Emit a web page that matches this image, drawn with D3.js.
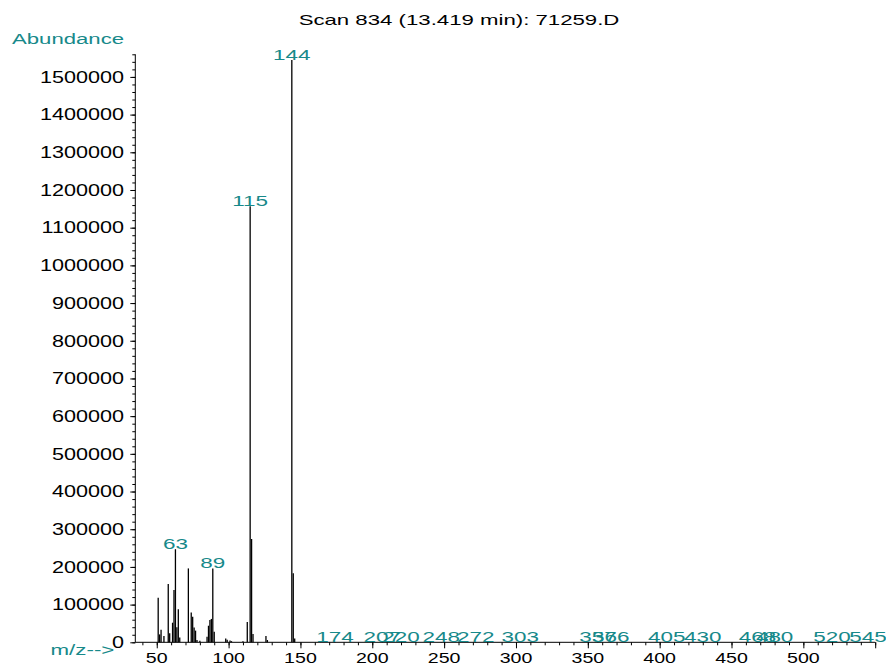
<!DOCTYPE html>
<html>
<head>
<meta charset="utf-8">
<script src="https://cdn.jsdelivr.net/npm/d3@7"></script>
<style>
  html, body { margin: 0; padding: 0; background: #ffffff; }
  svg { display: block; }
  text { font-family: "Liberation Sans", Arial, Helvetica, sans-serif; }
</style>
</head>
<body>
<svg id="chart" width="886" height="665"></svg>
<script>
// ---- data ----
const titleText = "Scan 834 (13.419 min): 71259.D";
const yAxisTitle = "Abundance";
const xAxisTitle = "m/z-->";

// m/z values of the peaks and their abundances
const mzValues = [51, 52, 53, 55, 58, 59, 61, 62, 63, 64, 65, 66, 72, 74, 75, 76, 77, 78, 80,
                  85, 86, 87, 88, 89, 90, 98, 99, 101, 102, 110, 113, 115, 116, 117, 126, 127,
                  144, 145, 146,
                  174, 207, 220, 248, 272, 303, 357, 366, 405, 430, 468, 480, 520, 545];
const abundances = [118000, 21000, 33000, 17000, 155000, 24000, 52000, 139000, 247000, 40000, 88000, 13000,
                    196000, 79000, 68000, 39000, 31000, 6000, 4000,
                    15000, 44000, 59000, 62000, 196000, 28000, 10000, 7000, 5000, 3000, 3000, 54000,
                    1157000, 274000, 22000, 17000, 6000,
                    1545000, 183000, 10000,
                    600, 500, 400, 600, 500, 400, 500, 600, 400, 500, 400, 500, 600, 400];
// peaks that carry a label
const labeledMz = [63, 89, 115, 144, 174, 207, 220, 248, 272, 303, 357, 366, 405, 430, 468, 480, 520, 545];

const xDomain = [35, 550];
const yDomain = [0, 1560000];
const xMajorTicks = [50, 100, 150, 200, 250, 300, 350, 400, 450, 500, 550];
const xTickLabels = [50, 100, 150, 200, 250, 300, 350, 400, 450, 500];
const yMajorTicks = [0, 100000, 200000, 300000, 400000, 500000, 600000, 700000, 800000,
                     900000, 1000000, 1100000, 1200000, 1300000, 1400000, 1500000];

// ---- layout ----
const teal = "#17898a";
const svg = d3.select("#chart");
const x = d3.scaleLinear().domain(xDomain).range([135.2, 875.2]);
const y = d3.scaleLinear().domain(yDomain).range([642.3, 54.3]);

function stext(sel, px, py, str, size, sx, anchor, color) {
  return sel.append("text")
    .attr("transform", `translate(${px},${py}) scale(${sx},1)`)
    .attr("text-anchor", anchor)
    .attr("font-size", size)
    .attr("fill", color)
    .text(str);
}

// title
stext(svg, 459, 25, titleText, 15, 1.48, "middle", "#000");
// axis titles
stext(svg, 12, 44.3, yAxisTitle, 15.5, 1.43, "start", teal);
stext(svg, 50.5, 655, xAxisTitle, 15, 1.49, "start", teal);

// y axis minor ticks
const yMinor = d3.range(0, 1560001, 20000);
svg.append("g").attr("transform", "translate(135.3,0)")
  .call(d3.axisLeft(y).tickValues(yMinor).tickSize(3).tickFormat(""))
  .call(g => g.select(".domain").remove())
  .call(g => g.selectAll("line").attr("stroke", "#000").attr("stroke-width", 1));
// y axis major ticks
const yAx = svg.append("g").attr("transform", "translate(135.3,0)")
  .call(d3.axisLeft(y).tickValues(yMajorTicks).tickSize(5).tickFormat(d3.format("d")));
yAx.select(".domain").remove();
yAx.selectAll("line").attr("stroke", "#000");
yAx.selectAll("text").remove();
yMajorTicks.forEach(v => stext(svg, 124, y(v) + 5.8, d3.format("d")(v), 16, 1.35, "end", "#000"));
svg.append("line").attr("x1", 135.3).attr("x2", 135.3).attr("y1", y(yDomain[1])).attr("y2", y(0))
  .attr("stroke", "#000").attr("stroke-width", 1);

// x axis minor ticks
const xMinor = d3.range(40, 551, 10);
svg.append("g").attr("transform", `translate(0,${y(0)})`)
  .call(d3.axisBottom(x).tickValues(xMinor).tickSize(3).tickFormat(""))
  .call(g => g.select(".domain").remove())
  .call(g => g.selectAll("line").attr("stroke", "#000"));
svg.append("g").attr("transform", `translate(0,${y(0)})`)
  .call(d3.axisBottom(x).tickValues(xMajorTicks).tickSize(6).tickFormat(""))
  .call(g => g.select(".domain").remove())
  .call(g => g.selectAll("line").attr("stroke", "#000"));
xTickLabels.forEach(v => stext(svg, x(v), 663, String(v), 14, 1.4, "middle", "#000"));
svg.append("line").attr("x1", x(xDomain[0])).attr("x2", x(xDomain[1])).attr("y1", y(0)).attr("y2", y(0))
  .attr("stroke", "#000").attr("stroke-width", 1);

// bars
const peaks = mzValues.map((m, i) => ({ mz: m, ab: abundances[i] }));
svg.append("g").selectAll("line").data(peaks).join("line")
  .attr("x1", d => x(d.mz)).attr("x2", d => x(d.mz))
  .attr("y1", y(0)).attr("y2", d => y(d.ab))
  .attr("stroke", "#000").attr("stroke-width", 1.3);

// peak labels
peaks.filter(d => labeledMz.includes(d.mz)).forEach(d => {
  stext(svg, x(d.mz), Math.min(y(d.ab), 642), String(d.mz), 15.5, 1.45, "middle", teal);
});
</script>
</body>
</html>
